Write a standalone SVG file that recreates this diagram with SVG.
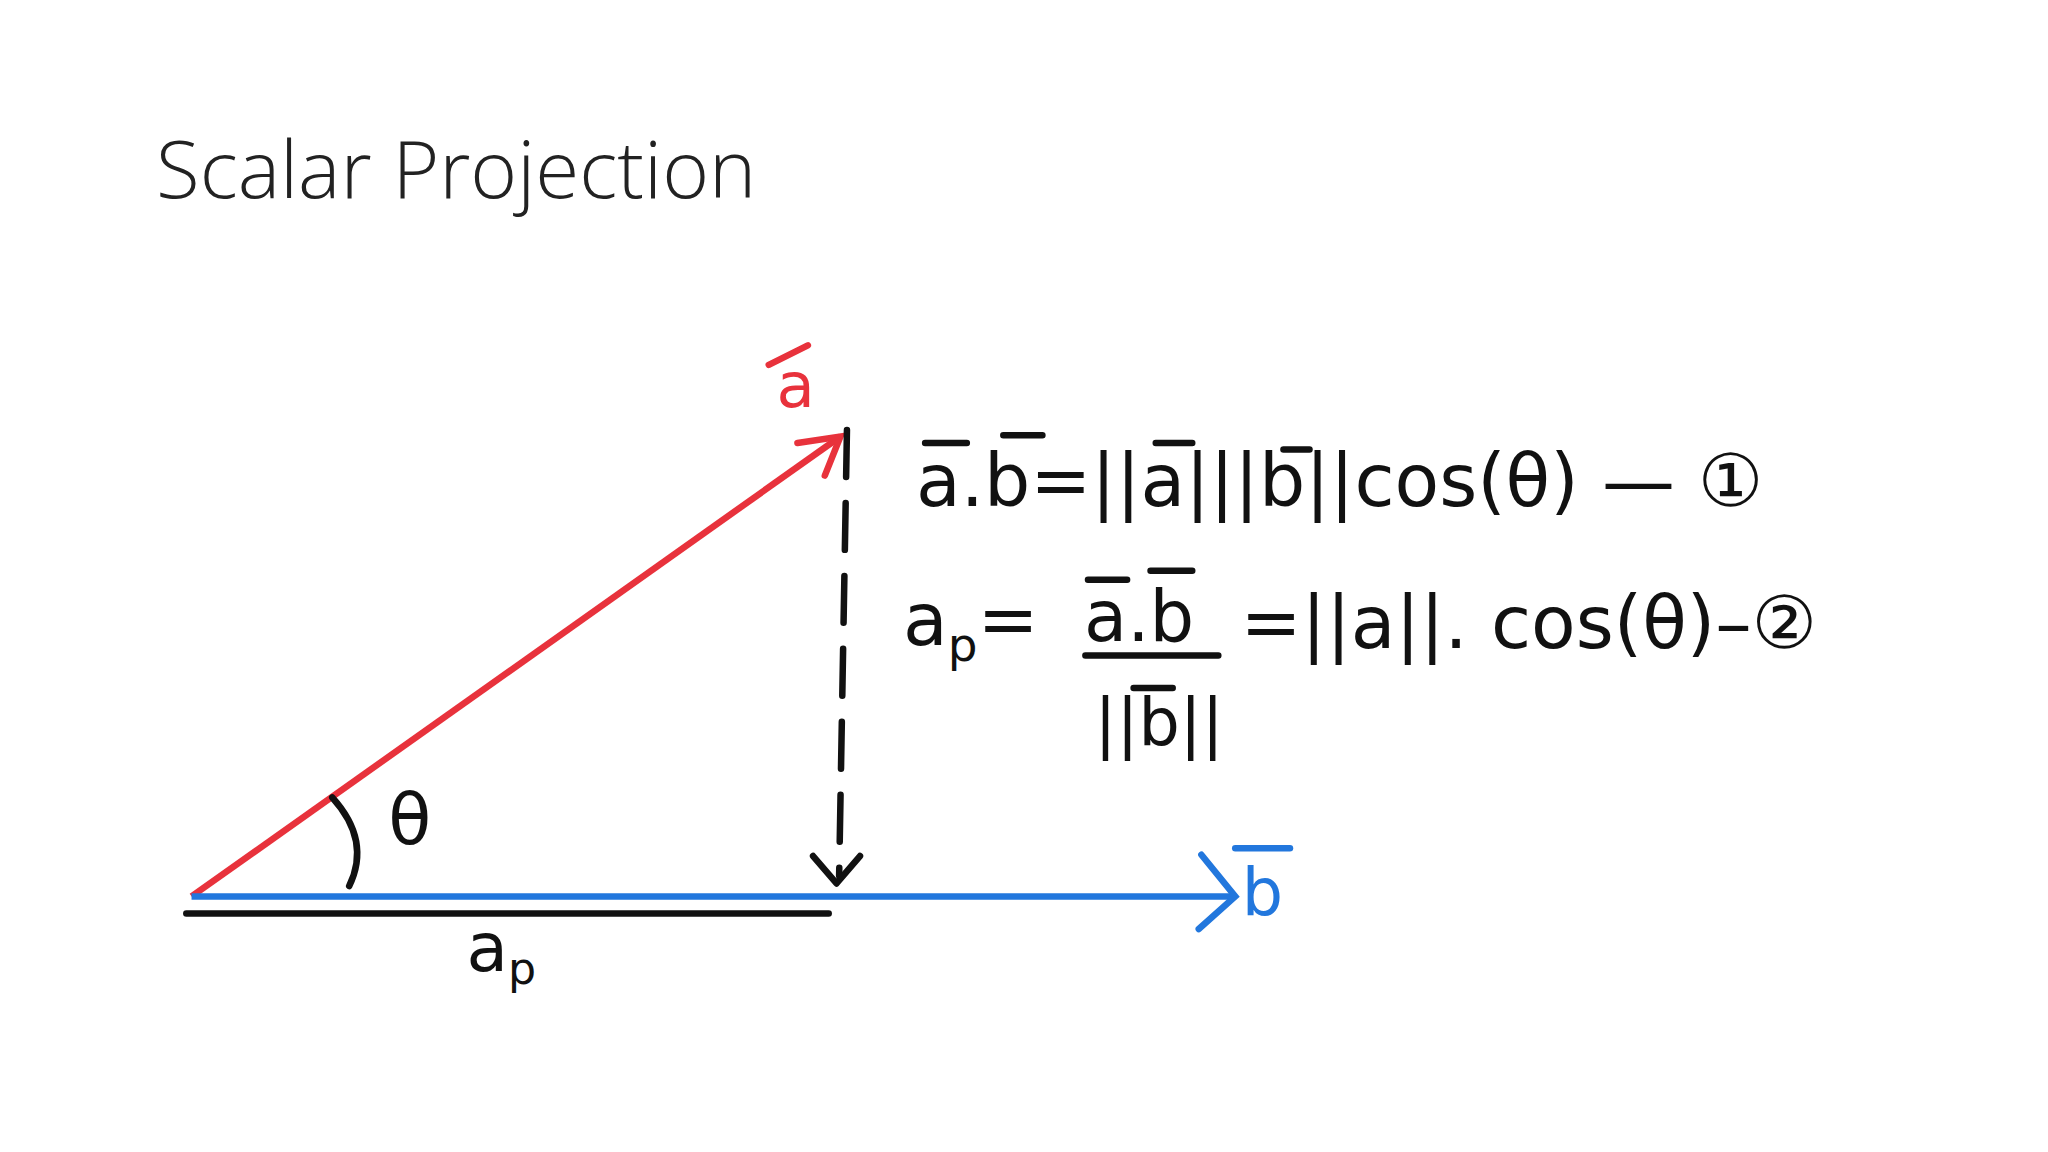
<svg xmlns="http://www.w3.org/2000/svg" width="2048" height="1152" viewBox="0 0 2048 1152">
<style>
.t{font-family:"Liberation Sans",sans-serif;fill:#111}
.h{font-family:"DejaVu Sans",sans-serif;fill:#111}
.k{stroke:#111;stroke-width:5;fill:none;stroke-linecap:round;stroke-linejoin:round}
</style>
<rect width="2048" height="1152" fill="#fff"/>
<text x="156" y="198" font-family="Open Sans, sans-serif" font-weight="300" font-size="80" fill="#222">Scalar Projection</text>
<g transform="scale(1.303)">
<g id="connectors">
<path d="M147 688 L645 335" stroke="#e8323c" stroke-width="5" fill="none"/>
<path d="M612 340 L645 335 L633 365" stroke="#e8323c" stroke-width="5" fill="none" stroke-linecap="round"/>
<path d="M147 688 L948 688" stroke="#2277dd" stroke-width="5" fill="none"/>
<path d="M922 656 L948 688 L920 713" stroke="#2277dd" stroke-width="5" fill="none" stroke-linecap="round"/>
<path d="M143 701 L636 701" class="k"/>
<path d="M650 330 L644 672" class="k" stroke-dasharray="36,20"/>
<path d="M624 657 L642 678 L660 657" class="k"/>
<path d="M255 612 Q285 645 268 680" class="k"/>
</g>
<g id="label-a">
<text x="596" y="312" class="h" font-size="48" style="fill:#e8323c">a</text>
<path d="M590 280 L620 265" stroke="#e8323c" stroke-width="5" stroke-linecap="round"/>
</g>
<g id="label-b">
<text x="953" y="702" class="h" font-size="50" style="fill:#2277dd">b</text>
<path d="M948 651 L990 651" stroke="#2277dd" stroke-width="5" stroke-linecap="round"/>
</g>
<g id="label-theta"><text x="298" y="648" class="h" font-size="54">θ</text></g>
<g id="label-ap"><text x="358" y="745" class="h" font-size="52">a<tspan font-size="34" dy="10">p</tspan></text></g>
<g id="eq1">
<text x="703" y="388" class="h" font-size="56">a.b=||a|||b||cos(θ) — ①</text>
<path d="M710 340 L742 340 M770 334 L800 334 M887 340 L915 340 M985 345 L1005 345" class="k"/>
</g>
<g id="eq2">
<text x="693" y="495" class="h" font-size="56">a<tspan font-size="36" dy="12">p</tspan><tspan dy="-12">=</tspan></text>
<text x="832" y="492" class="h" font-size="54">a.b</text>
<path d="M835 445 L865 445 M883 438 L915 438 M833 503 L935 503" class="k"/>
<text x="840" y="572" class="h" font-size="50">||b||</text>
<path d="M870 528 L900 528" class="k"/>
<text x="952" y="497" class="h" font-size="56">=||a||. cos(θ)–②</text>
</g>
</g>
</svg>
